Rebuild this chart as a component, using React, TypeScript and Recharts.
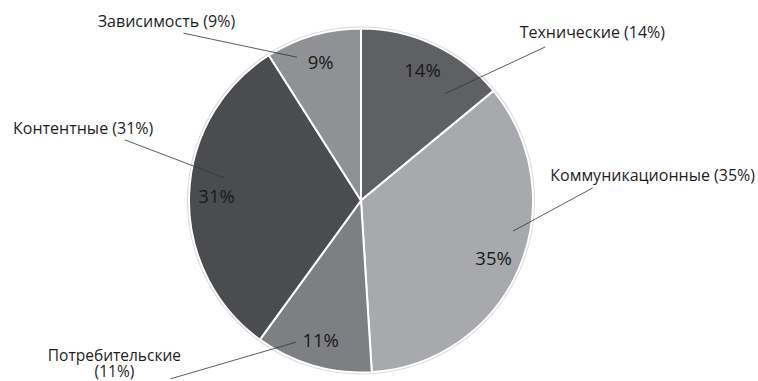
import { PieChart, Pie, Cell } from "recharts";

const categories = ["Технические", "Коммуникационные", "Потребительские", "Контентные", "Зависимость"];
const shares = [14, 35, 11, 31, 9];
const colors = ["#5f6064", "#a7a9ac", "#7e7f83", "#4b4c50", "#8f9194"];

// label layout: angle offsets (deg, clockwise) from slice middle, radii in px, text offset from line end
const labelLayout = [
  { inR: 136, inA: 13, outR: 240, outA: 25, tx: 47, ty: -15, wrap: false },
  { inR: 155, inA: -12, outR: 232, outA: -26.5, tx: 60, ty: -13, wrap: false },
  { inR: 156, inA: 8.5, outR: 261, outA: 30.7, tx: -56, ty: -23.5, wrap: true },
  { inR: 138, inA: 7.6, outR: 244, outA: 12.6, tx: -41.5, ty: -12, wrap: false },
  { inR: 157, inA: -7.9, outR: 244, outA: -30.5, tx: -17, ty: -12, wrap: false },
];

const data = categories.map((name, i) => ({ name, value: shares[i] }));
const ring = [{ name: "ring", value: 1 }];

const FONT = "'Open Sans', sans-serif";

function polar(cx: number, cy: number, r: number, deg: number) {
  const rad = (deg * Math.PI) / 180;
  return { x: cx + r * Math.sin(rad), y: cy - r * Math.cos(rad) };
}

function renderLabel(props: any) {
  const { cx, cy, midAngle, outerRadius, percent, index, name } = props;
  const mid = 90 - midAngle; // clockwise from top
  const lay = labelLayout[index];
  const pct = Math.round(percent * 100);
  const p = polar(cx, cy, outerRadius * 0.84, mid);
  const a = polar(cx, cy, lay.inR, mid + lay.inA);
  const b = polar(cx, cy, lay.outR, mid + lay.outA);
  const tx = b.x + lay.tx;
  const ty = b.y + lay.ty;
  return (
    <g key={`lbl-${index}`}>
      <text x={p.x} y={p.y} textAnchor="middle" dominantBaseline="central" fill="#1a1a1a" fontSize={18.5} fontFamily={FONT}>
        {pct}%
      </text>
      <line x1={a.x} y1={a.y} x2={b.x} y2={b.y} stroke="#333" strokeWidth={0.8} />
      {lay.wrap ? (
        <>
          <text x={tx} y={ty} textAnchor="middle" dominantBaseline="central" fill="#1e1e1e" fontSize={15.5} fontFamily={FONT}>
            {name}
          </text>
          <text x={tx} y={ty + 16} textAnchor="middle" dominantBaseline="central" fill="#1e1e1e" fontSize={15.5} fontFamily={FONT}>
            ({pct}%)
          </text>
        </>
      ) : (
        <text x={tx} y={ty} textAnchor="middle" dominantBaseline="central" fill="#1e1e1e" fontSize={16} fontFamily={FONT}>
          {name} ({pct}%)
        </text>
      )}
    </g>
  );
}

export default function App() {
  return (
    <div style={{ position: "absolute", left: 0, top: 0, width: 758, height: 381, background: "#fff" }}>
      <PieChart width={758} height={381} margin={{ top: 0, right: 0, bottom: 0, left: 0 }}>
        <Pie
          data={ring}
          dataKey="value"
          cx={361}
          cy={200.5}
          innerRadius={170}
          outerRadius={174}
          fill="#d9d9d9"
          stroke="none"
          isAnimationActive={false}
        />
        <Pie
          data={data}
          dataKey="value"
          nameKey="name"
          cx={361}
          cy={200.5}
          outerRadius={172}
          startAngle={90}
          endAngle={-270}
          stroke="#ffffff"
          strokeWidth={2}
          labelLine={false}
          label={renderLabel}
          isAnimationActive={false}
        >
          {data.map((d, i) => (
            <Cell key={d.name} fill={colors[i]} />
          ))}
        </Pie>
      </PieChart>
    </div>
  );
}
